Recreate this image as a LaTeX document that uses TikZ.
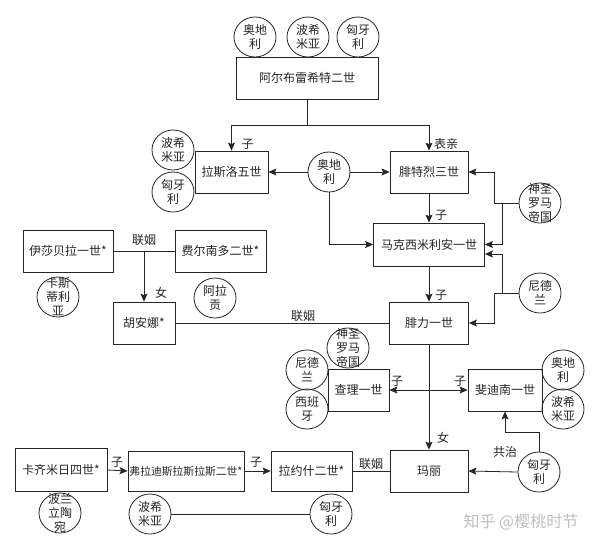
\documentclass[tikz,border=0pt]{standalone}
\usepackage{fontspec}
\setmainfont{Noto Sans CJK SC}
\usetikzlibrary{arrows.meta,shapes.geometric,calc}
\begin{document}
\begin{tikzpicture}[x=1pt,y=-1pt,
  every node/.style={font=\fontsize{12}{14}\selectfont, text=black!85},
  box/.style={draw=black!85, line width=0.8pt, rectangle, inner sep=0pt, minimum height=42pt},
  ctry/.style={draw=black!85, line width=0.8pt, ellipse, minimum width=42pt, minimum height=40pt, inner sep=0pt,
    label={[align=center, inner sep=0pt, font=\fontsize{12}{14}\selectfont, text=black!85]center:#1}},
  ln/.style={line width=0.8pt, draw=black!85},
  arr/.style={ln, -{Stealth[length=8pt,width=7pt,inset=1.5pt]}},
  arrtwo/.style={ln, {Stealth[length=8pt,width=7pt,inset=1.5pt]}-{Stealth[length=8pt,width=7pt,inset=1.5pt]}},
  lbl/.style={inner sep=0pt}
]
\fill[white] (0,0) rectangle (600,550);
\useasboundingbox (0,0) rectangle (600,550);

% boxes
\node[box, minimum width=142pt] (A2) at (307,78) {阿尔布雷希特二世};
\node[box, minimum width=73pt] (L5) at (231.5,172) {拉斯洛五世};
\node[box, minimum width=78pt] (F3) at (429,172) {腓特烈三世};
\node[box, minimum width=111pt, minimum height=43pt] (M1) at (429,244.5) {马克西米利安一世};
\node[box, minimum width=90pt] (I1) at (68,251) {伊莎贝拉一世*};
\node[box, minimum width=91pt] (F2) at (220.5,251) {费尔南多二世*};
\node[box, minimum width=62pt] (J) at (144,323) {胡安娜*};
\node[box, minimum width=79pt] (P1) at (429,323) {腓力一世};
\node[box, minimum width=61pt] (C1) at (358.5,390) {查理一世};
\node[box, minimum width=74pt] (Fd) at (505,390) {斐迪南一世};
\node[box, minimum width=78pt] (Ma) at (429,471) {玛丽};
\node[box, minimum width=92pt, minimum height=43pt] (K4) at (61,470) {卡齐米日四世*};
\node[box, minimum width=116pt, minimum height=40pt, font=\fontsize{10.8}{14}\selectfont] (V2) at (186,471) {弗拉迪斯拉斯拉斯二世*};
\node[box, minimum width=81pt, minimum height=40pt] (L2) at (311.5,471) {拉约什二世*};

% circles
\node[ctry={奥地\\利}] (t1) at (255,37) {};
\node[ctry={波希\\米亚}] (t2) at (308,37) {};
\node[ctry={匈牙\\利}] (t3) at (358,37) {};
\node[ctry={波希\\米亚}] (lb) at (173,150) {};
\node[ctry={匈牙\\利}] (lh) at (173,192) {};
\node[ctry={奥地\\利}] (oa) at (329,172) {};
\node[ctry={神圣\\罗马\\帝国}] (hre) at (540,203) {};
\node[ctry={尼德\\兰}] (nl) at (540,293) {};
\node[ctry={卡斯\\蒂利\\亚}] (ca) at (58,297) {};
\node[ctry={阿拉\\贡}] (ar) at (215,298) {};
\node[ctry={神圣\\罗马\\帝国}] (hre2) at (348,348) {};
\node[ctry={尼德\\兰}] (nl2) at (307,370) {};
\node[ctry={西班\\牙}] (es) at (307,409) {};
\node[ctry={奥地\\利}] (oa2) at (563,370) {};
\node[ctry={波希\\米亚}] (bo2) at (563,409) {};
\node[ctry={匈牙\\利}] (hur) at (539,472) {};
\node[ctry={波兰\\立陶\\宛}] (pl) at (60,513) {};
\node[ctry={波希\\米亚}] (bob) at (150,514) {};
\node[ctry={匈牙\\利}] (hub) at (331,514) {};

% connectors
\coordinate (j1) at (307,125);
\draw[ln] (A2.south) -- (j1);
\draw[arr] (j1) -| (L5.north);
\draw[arr] (j1) -| (F3.north);
\draw[arr] (oa.west) -- (L5.east);
\draw[arr] (oa.east) -- (F3.west);
\draw[arr] (oa.south) |- (M1.west);
\draw[arr] (F3.south) -- (M1.north);
\coordinate (h1) at (494,203);
\coordinate (h2) at (502,203);
\draw[ln] (hre.west) -- (h1);
\draw[arr] (h1) |- (F3.east);
\draw[arr] (h2) |- (M1.east);
\coordinate (n1) at (502,293);
\coordinate (n2) at (494,293);
\draw[ln] (nl.west) -- (n2);
\draw[arr] (n1) |- ($(M1.east)+(0,9.5)$);
\draw[arr] (n2) |- (P1.east);
\draw[arr] (M1.south) -- (P1.north);
\coordinate (jm) at (144,251);
\draw[ln] (I1.east) -- (F2.west);
\draw[arr] (jm) -- (J.north);
\draw[ln] (J.east) -- (P1.west);
\draw[arr] (P1.south) -- (Ma.north);
\draw[arrtwo] (C1.east) -- (Fd.west);
\draw[arr] (hur.west) -- (Ma.east);
\coordinate (g1) at (539,432);
\draw[arr] (hur.north) -- (g1) -| (Fd.south);
\draw[ln] (L2.east) -- (Ma.west);
\draw[arr] (K4.east) -- (V2.west);
\draw[arr] (V2.east) -- (L2.west);
\draw[ln] (bob.east) -- (hub.west);

% labels
\node[lbl] (s1) at (247.5,144) {子};
\node[lbl] (s2) at (446,144) {表亲};
\node[lbl] (s3) at (441,215) {子};
\node[lbl] (s4) at (441,295) {子};
\node[lbl] (s5) at (144,240) {联姻};
\node[lbl] (s6) at (161,293) {女};
\node[lbl] (s7) at (303,316) {联姻};
\node[lbl] (s8) at (397,381) {子};
\node[lbl] (s9) at (460,381) {子};
\node[lbl] (s10) at (443,438) {女};
\node[lbl] (s11) at (505,452) {共治};
\node[lbl] (s12) at (371,464) {联姻};
\node[lbl] (s13) at (117,462) {子};
\node[lbl] (s14) at (256,462) {子};
\node[lbl, text=black!25, font=\fontsize{16}{16}\selectfont] (wm) at (521,522) {知乎 @樱桃时节};
\end{tikzpicture}
\end{document}
